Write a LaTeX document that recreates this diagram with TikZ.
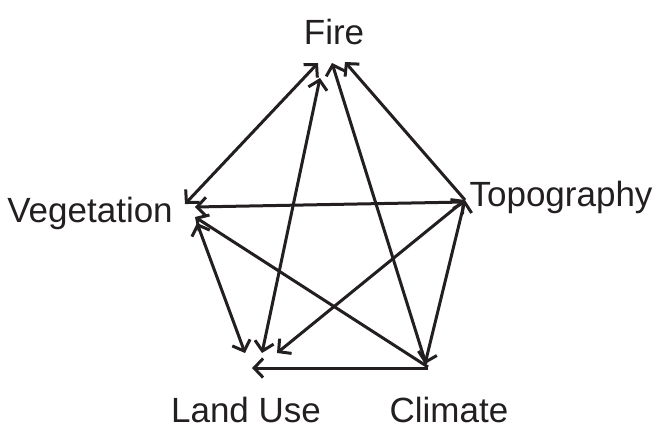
\documentclass[tikz,border=0pt]{standalone}
\usepackage{fontspec}
\setmainfont{Liberation Sans}
\usetikzlibrary{arrows.meta}
\definecolor{ink}{HTML}{231F20}
\begin{document}
\begin{tikzpicture}[x=1pt,y=-1pt,
  lbl/.style={anchor=base,font=\fontsize{35}{35}\selectfont,text=ink,inner sep=0pt},
  tip/.style={Straight Barb[length=9pt,width=19pt,line width=3pt]},
  both/.style={draw=ink,line width=3pt,{Straight Barb[length=9pt,width=19pt]}-{Straight Barb[length=9pt,width=19pt]}},
  one/.style={draw=ink,line width=3pt,-{Straight Barb[length=9pt,width=19pt]}}]
\useasboundingbox (0,0) rectangle (663,432);
\node[lbl] (fire) at (334,44) {Fire};
\node[lbl] (veg) at (90,222) {Vegetation};
\node[lbl] (topo) at (561,206) {Topography};
\node[lbl] (land) at (246,422) {Land Use};
\node[lbl] (clim) at (449,422) {Climate};
% endpoints
\coordinate (F1) at (318,63);
\coordinate (F2) at (320,78);
\coordinate (F3) at (332,63);
\coordinate (F4) at (345,62);
\coordinate (V1) at (185,204);
\coordinate (V2) at (195,207);
\coordinate (V3) at (195,217);
\coordinate (V4) at (197,223);
\coordinate (L1) at (262,353);
\coordinate (L2) at (245,353);
\coordinate (L3) at (277,353);
\coordinate (L4) at (252,368);
\coordinate (T1) at (465,200);
\coordinate (T2) at (465,202);
\coordinate (C1) at (426,364);
\coordinate (C2) at (428,367);
\coordinate (C3) at (428,368);
\coordinate (C4) at (425,364);
\draw[both] (V1) -- (F1);
\draw[both] (L1) -- (F2);
\draw[one] (C1) -- (F3);
\draw[one] (T1) -- (F4);
\draw[one] (T2) -- (V2);
\draw[one] (C2) -- (V3);
\draw[both] (L2) -- (V4);
\draw[both] (L3) -- (T1);
\draw[one] (C3) -- (L4);
\draw[both] (T1) -- (C4);
\end{tikzpicture}
\end{document}
